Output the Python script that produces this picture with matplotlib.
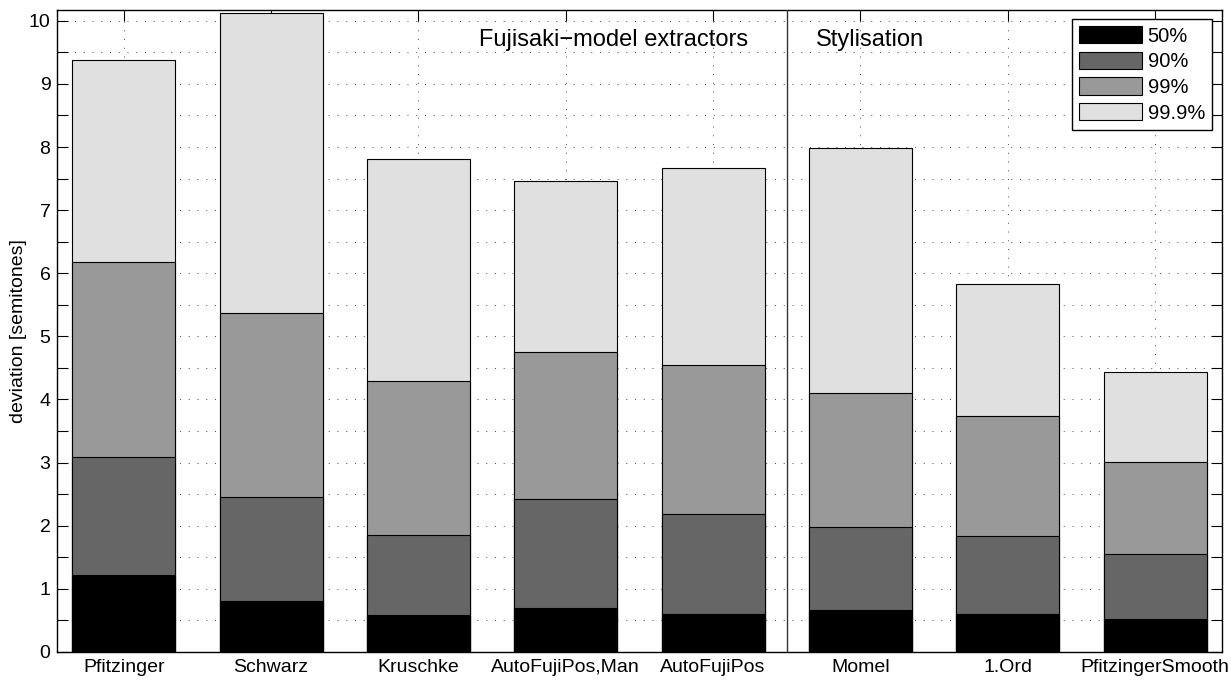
"""
Perzentile der F0-Abweichung je Extraktor / Stilisierung.

Überlagerte Balken (50 / 90 / 99 / 99.9 %) in Graustufen, MATLAB-Look.
"""
import matplotlib
matplotlib.use("Agg")
import matplotlib.pyplot as plt
from matplotlib.ticker import MultipleLocator

plt.rcParams["font.family"] = ["Liberation Sans", "DejaVu Sans"]

METHODS = ["Pfitzinger", "Schwarz", "Kruschke", "AutoFujiPos,Man", "AutoFujiPos",
           "Momel", "1.Ord", "PfitzingerSmooth"]

P50 = [1.22, 0.81, 0.59, 0.69, 0.60, 0.67, 0.60, 0.52]
P90 = [3.09, 2.45, 1.85, 2.43, 2.19, 1.98, 1.84, 1.55]
P99 = [6.18, 5.37, 4.29, 4.76, 4.55, 4.11, 3.74, 3.01]
P999 = [9.38, 10.12, 7.81, 7.46, 7.67, 7.99, 5.83, 4.44]

LEVELS = ["50%", "90%", "99%", "99.9%"]
GREYS = ["#000000", "#666666", "#999999", "#e0e0e0"]

N_FUJISAKI = 5  # die ersten fünf sind Fujisaki-Extraktoren


def plot_percentiles(path="out.png"):
    fig = plt.figure(figsize=(12.31, 6.82), dpi=100)
    ax = fig.add_axes([0.0466, 0.044, 0.9457, 0.9413])

    x = list(range(1, len(METHODS) + 1))
    series = [P50, P90, P99, P999]

    # von hinten nach vorne: höchstes Perzentil zuerst
    handles = [None] * 4
    for i in reversed(range(4)):
        handles[i] = ax.bar(x, series[i], width=0.7, color=GREYS[i],
                            edgecolor="black", linewidth=0.8, label=LEVELS[i])

    ax.axvline(N_FUJISAKI + 0.5, color="#333333", linewidth=1.0, zorder=3)

    ax.text(3.41, 9.60, "Fujisaki\u2212model extractors", fontsize=17, va="baseline")
    ax.text(5.70, 9.60, "Stylisation", fontsize=17, va="baseline")

    ax.set_xlim(0.549, 8.451)
    ax.set_ylim(0, 10.17)
    ax.set_xticks(x)
    ax.set_xticklabels(METHODS)
    ax.yaxis.set_major_locator(MultipleLocator(1))
    ax.yaxis.set_minor_locator(MultipleLocator(0.5))

    ax.tick_params(which="both", direction="in", length=8, width=0.8,
                   top=True, right=True, labelsize=14, pad=5)
    ax.set_ylabel("deviation [semitones]", fontsize=14, labelpad=1.5)

    ax.set_axisbelow(True)
    dot = (0, (1, 8))
    ax.grid(axis="y", which="both", linestyle=dot, color="0.3", linewidth=0.7)
    ax.grid(axis="x", which="major", linestyle=dot, color="0.3", linewidth=0.7)
    for s in ax.spines.values():
        s.set_linewidth(1.0)

    leg = ax.legend(handles=handles, labels=LEVELS, loc="upper right",
                    bbox_to_anchor=(1212 / 1231, 1 - 19 / 682),
                    bbox_transform=fig.transFigure, borderaxespad=0,
                    fontsize=14.5, fancybox=False, framealpha=1,
                    edgecolor="black", handlelength=3.1, handleheight=0.95,
                    labelspacing=0.3, handletextpad=0.3, borderpad=0.35)
    leg.get_frame().set_linewidth(1.0)

    fig.savefig(path, dpi=100)
    plt.close(fig)
    return path


if __name__ == "__main__":
    plot_percentiles()
